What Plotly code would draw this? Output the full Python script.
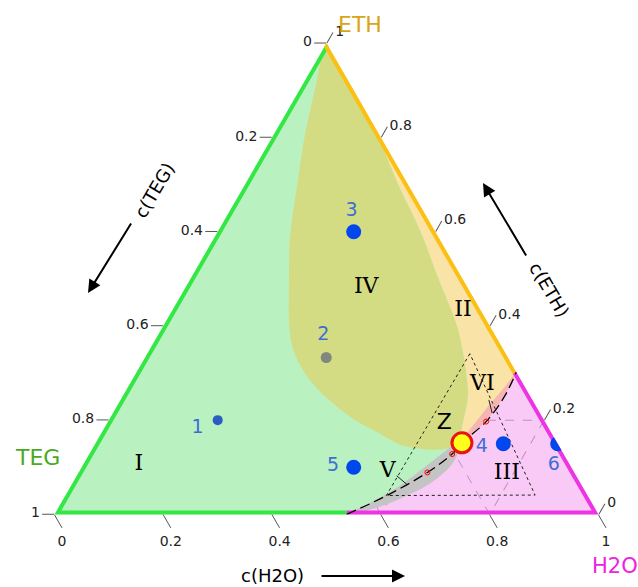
import plotly.graph_objects as go

# all compositions are given as (ETH, H2O); TEG is the remainder
# labelled sample points
point_names = ["1", "2", "3", "4", "5", "6"]
point_eth = [0.20, 0.333, 0.60, 0.15, 0.10, 0.15]
point_h2o = [0.20, 0.333, 0.25, 0.75, 0.50, 0.85]
point_colors = ["#2a5cc4", "#808680", "#0047ee", "#0047ee", "#0047ee", "#0047ee"]
point_sizes = [10, 11, 15, 15, 15, 15]
label_eth = [0.182, 0.380, 0.644, 0.143, 0.102, 0.104]
label_h2o = [0.172, 0.304, 0.224, 0.714, 0.461, 0.866]

# point Z
z_eth = [0.152]
z_h2o = [0.673]

# binodal (dashed), from the TEG-H2O side up to the ETH-H2O side
binodal_eth = [0.0, 0.041, 0.089, 0.128, 0.152, 0.197, 0.250, 0.302]
binodal_h2o = [0.537, 0.592, 0.641, 0.667, 0.673, 0.695, 0.702, 0.698]
tie_eth = [0.089, 0.128, 0.197]
tie_h2o = [0.641, 0.667, 0.695]

# region IV, right edge from the ETH corner down to Z
iv_right_eth = [1.0, 0.80, 0.70, 0.60, 0.50, 0.40, 0.35, 0.30, 0.25, 0.20, 0.17, 0.152]
iv_right_h2o = [0.0, 0.195, 0.282, 0.373, 0.456, 0.540, 0.575, 0.607, 0.635, 0.652, 0.662, 0.673]
# region IV, lower/left edge from Z back to the ETH corner
iv_left_eth = [0.152, 0.141, 0.137, 0.139, 0.148, 0.171, 0.197, 0.228, 0.265, 0.302,
               0.351, 0.401, 0.482, 0.590, 0.698, 0.807, 0.915, 1.0]
iv_left_h2o = [0.673, 0.655, 0.633, 0.607, 0.561, 0.513, 0.458, 0.406, 0.352, 0.308,
               0.263, 0.231, 0.190, 0.138, 0.097, 0.057, 0.024, 0.0]

# region V, grey lens along the binodal
v_upper_eth = [0.0, 0.024, 0.061, 0.108, 0.141, 0.156, 0.152]
v_upper_h2o = [0.537, 0.567, 0.604, 0.635, 0.655, 0.666, 0.673]
v_lower_eth = [0.152, 0.130, 0.100, 0.069, 0.041, 0.015, 0.0]
v_lower_h2o = [0.673, 0.677, 0.676, 0.660, 0.630, 0.588, 0.537]

# region III reaches a little over the binodal between the side and Z
iii_upper_eth = [0.302, 0.269, 0.232, 0.178, 0.152]
iii_upper_h2o = [0.698, 0.692, 0.683, 0.673, 0.673]

# dotted triangle around Z
tri_eth = [0.341, 0.040, 0.041, 0.341]
tri_h2o = [0.593, 0.590, 0.863, 0.593]

# leader lines for the V and VI labels
lead_v_eth = [0.082, 0.063]
lead_v_h2o = [0.588, 0.617]
lead_vi_eth = [0.243, 0.215]
lead_vi_h2o = [0.677, 0.697]

region_names = ["I", "II", "III", "IV", "V", "VI"]
region_eth = [0.106, 0.432, 0.087, 0.482, 0.091, 0.275]
region_h2o = [0.102, 0.535, 0.788, 0.332, 0.567, 0.649]
z_label_eth = [0.193]
z_label_h2o = [0.620]

ticks = [0, 0.2, 0.4, 0.6, 0.8, 1]
tick_text = ["1", "0.8", "0.6", "0.4", "0.2", "0"]

ETH_CORNER = (1.0, 0.0)
TEG_CORNER = (0.0, 0.0)
H2O_CORNER = (0.0, 1.0)


def tern(eth, h2o, **kw):
    teg = [max(0.0, 1 - e - w) for e, w in zip(eth, h2o)]
    return go.Scatterternary(a=list(eth), b=teg, c=list(h2o), hoverinfo="skip",
                             showlegend=False, **kw)


bin_b, bin_e = (binodal_eth[0], binodal_h2o[0]), (binodal_eth[-1], binodal_h2o[-1])
iz = binodal_eth.index(z_eth[0])

fig = go.Figure()

# region II (light orange)
e = [ETH_CORNER[0], bin_e[0]] + binodal_eth[iz:][::-1] + iv_right_eth[::-1]
w = [ETH_CORNER[1], bin_e[1]] + binodal_h2o[iz:][::-1] + iv_right_h2o[::-1]
fig.add_trace(tern(e, w, mode="lines", fill="toself", fillcolor="#fae3a6",
                   line=dict(width=0)))

# region I (light green)
e = [ETH_CORNER[0], TEG_CORNER[0]] + binodal_eth[:iz + 1] + iv_right_eth[::-1]
w = [ETH_CORNER[1], TEG_CORNER[1]] + binodal_h2o[:iz + 1] + iv_right_h2o[::-1]
fig.add_trace(tern(e, w, mode="lines", fill="toself", fillcolor="#b9f1c1",
                   line=dict(width=0)))

# region IV (khaki)
fig.add_trace(tern(iv_right_eth + iv_left_eth, iv_right_h2o + iv_left_h2o, mode="lines",
                   fill="toself", fillcolor="#d4dc83", line=dict(width=0, shape="spline")))

# region III (pink, see-through so it turns salmon over region II)
e = [bin_b[0], H2O_CORNER[0]] + iii_upper_eth + binodal_eth[:iz + 1][::-1]
w = [bin_b[1], H2O_CORNER[1]] + iii_upper_h2o + binodal_h2o[:iz + 1][::-1]
fig.add_trace(tern(e, w, mode="lines", fill="toself", fillcolor="rgba(236,60,222,0.27)",
                   line=dict(width=0)))

# region V (grey)
fig.add_trace(tern(v_upper_eth + v_lower_eth, v_upper_h2o + v_lower_h2o, mode="lines",
                   fill="toself", fillcolor="#c4c4c4", line=dict(width=0, shape="spline")))

# coloured sides
fig.add_trace(tern([ETH_CORNER[0], TEG_CORNER[0], bin_b[0]],
                   [ETH_CORNER[1], TEG_CORNER[1], bin_b[1]],
                   mode="lines", line=dict(color="#33e845", width=8)))
fig.add_trace(tern([ETH_CORNER[0], bin_e[0]], [ETH_CORNER[1], bin_e[1]],
                   mode="lines", line=dict(color="#fcc012", width=8)))
fig.add_trace(tern([bin_b[0], H2O_CORNER[0], bin_e[0]], [bin_b[1], H2O_CORNER[1], bin_e[1]],
                   mode="lines", line=dict(color="#ee33e2", width=8)))

# binodal, tie points, dotted triangle, leader lines
fig.add_trace(tern(binodal_eth, binodal_h2o, mode="lines",
                   line=dict(color="black", width=1.3, dash="10px,5px", shape="spline")))
fig.add_trace(tern(tie_eth, tie_h2o, mode="markers",
                   marker=dict(symbol="circle-open", size=5, color="red",
                               line=dict(width=1, color="red"))))
fig.add_trace(tern(tri_eth, tri_h2o, mode="lines",
                   line=dict(color="#222", width=1, dash="dot")))
for le, lw in [(lead_v_eth, lead_v_h2o), (lead_vi_eth, lead_vi_h2o)]:
    fig.add_trace(tern(le, lw, mode="lines", line=dict(color="#222", width=1)))

# points
fig.add_trace(tern(point_eth, point_h2o, mode="markers",
                   marker=dict(size=point_sizes, color=point_colors, opacity=1,
                               line=dict(width=0))))
fig.add_trace(tern(z_eth, z_h2o, mode="markers",
                   marker=dict(size=20, color="#ffff1a", opacity=1,
                               line=dict(width=3, color="#e8150f"))))

# labels
fig.add_trace(tern(label_eth, label_h2o, mode="text", text=point_names,
                   textfont=dict(family="DejaVu Sans", size=19, color="#3c6fd6")))
fig.add_trace(tern(region_eth, region_h2o, mode="text", text=region_names,
                   textfont=dict(family="DejaVu Serif", size=22, color="black")))
fig.add_trace(tern(z_label_eth, z_label_h2o, mode="text", text=["Z"],
                   textfont=dict(family="DejaVu Sans", size=22, color="black")))

axis_style = dict(
    tickvals=ticks, ticktext=tick_text, ticks="outside", ticklen=12, tickcolor="#555",
    tickwidth=1, tickfont=dict(family="DejaVu Sans", size=14, color="#222"),
    showgrid=True, gridcolor="rgba(110,110,110,0.55)", gridwidth=1, griddash="dash",
    showline=False, layer="above traces", title=dict(text=""),
)

W, H = 638, 587


def px(x, y):
    return dict(x=x / W, y=1 - y / H, xref="paper", yref="paper",
                xanchor="center", yanchor="middle")


annotations = [
    dict(text="ETH", font=dict(family="DejaVu Sans", size=22, color="#d9a515"),
         showarrow=False, **px(360, 24)),
    dict(text="TEG", font=dict(family="DejaVu Sans", size=22, color="#4aaa1e"),
         showarrow=False, **px(37, 457)),
    dict(text="H2O", font=dict(family="DejaVu Sans", size=21, color="#ee22e0"),
         showarrow=False, **px(615, 566)),
    dict(text="c(TEG)", font=dict(family="DejaVu Sans", size=18, color="black"),
         textangle=-59.5, showarrow=False, **px(154, 190)),
    dict(text="c(ETH)", font=dict(family="DejaVu Sans", size=18, color="black"),
         textangle=59.5, showarrow=False, **px(549, 290)),
    dict(text="c(H2O)", font=dict(family="DejaVu Sans", size=18, color="black"),
         showarrow=False, **px(272, 575)),
    dict(text="", showarrow=True, arrowhead=2, arrowsize=1.3, arrowwidth=2,
         arrowcolor="black", ax=44, ay=-71, **px(88, 293)),
    dict(text="", showarrow=True, arrowhead=2, arrowsize=1.3, arrowwidth=2,
         arrowcolor="black", ax=44, ay=74, **px(483, 183)),
    dict(text="", showarrow=True, arrowhead=2, arrowsize=1.3, arrowwidth=2,
         arrowcolor="black", ax=-85, ay=0, **px(405, 576)),
]

fig.update_layout(
    width=W, height=H,
    margin=dict(l=0, r=0, t=0, b=0),
    paper_bgcolor="white",
    ternary=dict(
        sum=1,
        domain=dict(x=[54.5 / W, 598.5 / W], y=[0.12, 0.93]),
        bgcolor="white",
        aaxis=dict(axis_style),
        baxis=dict(axis_style, ticklen=15),
        caxis=dict(axis_style),
    ),
    annotations=annotations,
    showlegend=False,
)

fig.write_html("out.html", config={"displayModeBar": False},
               post_script="document.body.style.margin='0px';")
